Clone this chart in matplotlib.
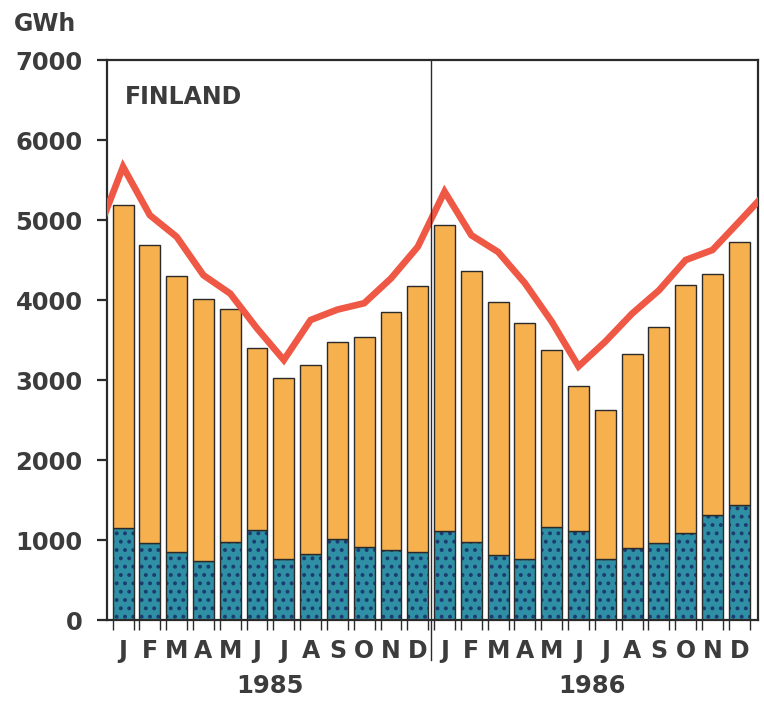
import numpy as np
import matplotlib
matplotlib.use("Agg")
import matplotlib.pyplot as plt
import matplotlib.transforms as mtransforms

plt.rcParams['font.family'] = ['DejaVu Sans']
plt.rcParams['hatch.linewidth'] = 1.6

# -------------------- data (GWh) --------------------
months = ["J", "F", "M", "A", "M", "J", "J", "A", "S", "O", "N", "D"] * 2
years = ["1985", "1986"]

# total bar height (orange top)
total = [5190, 4690, 4300, 4010, 3890, 3400, 3025, 3190, 3475, 3540, 3850, 4175,
         4940, 4360, 3970, 3710, 3380, 2930, 2620, 3330, 3660, 4190, 4330, 4720]
# lower dotted part
lower = [1155, 960, 845, 740, 980, 1125, 762, 825, 1008, 917, 875, 855,
         1117, 980, 812, 758, 1167, 1117, 767, 896, 958, 1092, 1308, 1438]
# red line, incl. Dec 1984 and Jan 1987 which run off the edges
line_vals = [4800,
             5665, 5060, 4790, 4310, 4080, 3645, 3250, 3750, 3880, 3960, 4270, 4665,
             5355, 4810, 4600, 4210, 3730, 3170, 3480, 3830, 4120, 4500, 4625, 4980,
             5340]

C_ORANGE = "#f7b04e"
C_TEAL = "#2f8fa4"
C_DOT = "#1a3c70"
C_RED = "#ef5845"
C_TEXT = "#3c3c3c"

x = np.arange(len(total))
upper = np.array(total) - np.array(lower)
w = 0.78

fig = plt.figure(figsize=(7.64, 7.05), dpi=100)
ax = fig.add_axes([107/764, 85/705, 651/764, 560/705])

# dotted lower part: hatch layer then outline
ax.bar(x, lower, w, color=C_TEAL, edgecolor=C_DOT, hatch="..", linewidth=0, zorder=2)
ax.bar(x, lower, w, fill=False, edgecolor="#2a2a2a", linewidth=1.0, zorder=3)
ax.bar(x, upper, w, bottom=lower, color=C_ORANGE, edgecolor="#2a2a2a", linewidth=1.0, zorder=3)

lx = np.arange(-1, len(total) + 1)
ax.plot(lx, line_vals, color=C_RED, linewidth=4.8, solid_joinstyle="miter", zorder=4)

ax.set_xlim(-0.6, 23.7)
ax.set_ylim(0, 7000)

# year divider, running down through the month labels
trans = mtransforms.blended_transform_factory(ax.transData, ax.transAxes)
ax.plot([11.5, 11.5], [-0.072, 1], color="#2a2a2a", linewidth=1.0,
        transform=trans, clip_on=False, zorder=5)

for s in ax.spines.values():
    s.set_color("#2a2a2a")
    s.set_linewidth(1.6)

ax.set_yticks(np.arange(0, 7001, 1000))
ax.tick_params(axis="y", length=7.5, width=1.6, color="#2a2a2a", pad=10,
               labelsize=17.5, labelcolor=C_TEXT)
for lab in ax.get_yticklabels():
    lab.set_fontweight("bold")

ax.set_xticks(x)
ax.set_xticklabels(months)
ax.tick_params(axis="x", which="major", length=0, pad=14,
               labelsize=17, labelcolor=C_TEXT)
for lab in ax.get_xticklabels():
    lab.set_fontweight("bold")
edges = np.concatenate([x - w/2, x + w/2])
ax.set_xticks(edges, minor=True)
ax.tick_params(axis="x", which="minor", length=7, width=1.0, color="#2a2a2a")

for i, yr in enumerate(years):
    ax.text(5.5 + 12*i, -0.118, yr, transform=trans, ha="center", va="center",
            fontsize=17.5, fontweight="bold", color=C_TEXT)

ax.text(0.07, 6540, "FINLAND", fontsize=17, fontweight="bold", color=C_TEXT,
        ha="left", va="center")
fig.text(45/764, 1 - 24/705, "GWh", fontsize=17, fontweight="bold",
         color=C_TEXT, ha="center", va="center")

fig.savefig("out.png", dpi=100)
